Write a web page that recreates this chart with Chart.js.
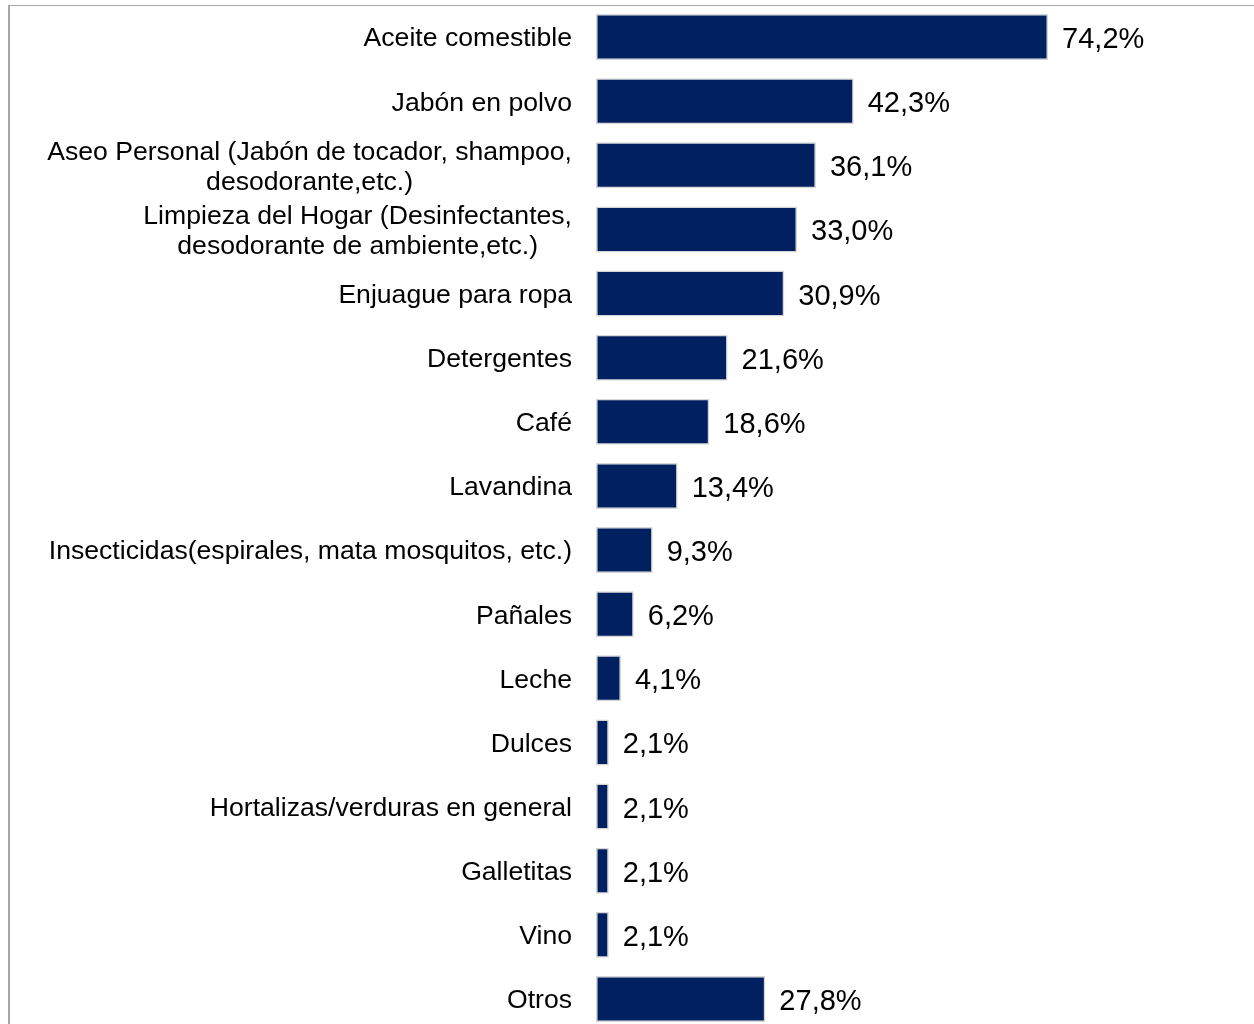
<!DOCTYPE html>
<html><head><meta charset="utf-8">
<script src="https://cdn.jsdelivr.net/npm/chart.js@4/dist/chart.umd.min.js"></script>
<style>
html,body{margin:0;padding:0;background:#fff;overflow:hidden;width:1254px;height:1024px}
#frame{position:absolute;left:8px;top:5px;width:1246px;height:1030px;border-top:1px solid #a6a6a6;border-left:2px solid #a6a6a6;}
#wrap{position:absolute;left:0;top:0;width:1254px;height:1031px}
</style></head><body>
<div id="frame"></div>
<div id="wrap"><canvas id="c" width="1254" height="1031"></canvas></div>
<script>
const categories = [
  ["Aceite comestible"],
  ["Jabón en polvo"],
  ["Aseo Personal (Jabón de tocador, shampoo,", "desodorante,etc.)"],
  ["Limpieza del Hogar (Desinfectantes,", "desodorante de ambiente,etc.)"],
  ["Enjuague para ropa"],
  ["Detergentes"],
  ["Café"],
  ["Lavandina"],
  ["Insecticidas(espirales, mata mosquitos, etc.)"],
  ["Pañales"],
  ["Leche"],
  ["Dulces"],
  ["Hortalizas/verduras en general"],
  ["Galletitas"],
  ["Vino"],
  ["Otros"]
];
const values = [74.2, 42.3, 36.1, 33.0, 30.9, 21.6, 18.6, 13.4, 9.3, 6.2, 4.1, 2.1, 2.1, 2.1, 2.1, 27.8];
const valueLabels = ["74,2%", "42,3%", "36,1%", "33,0%", "30,9%", "21,6%", "18,6%", "13,4%", "9,3%", "6,2%", "4,1%", "2,1%", "2,1%", "2,1%", "2,1%", "27,8%"];

const FONT = '"Liberation Sans", Arial, sans-serif';

const labelPlugin = {
  id: 'customLabels',
  afterDatasetsDraw(chart) {
    const ctx = chart.ctx;
    const meta = chart.getDatasetMeta(0);
    const yScale = chart.scales.y;
    ctx.save();
    ctx.fillStyle = '#000';
    ctx.textBaseline = 'middle';
    ctx.font = '26.6px ' + FONT;
    const rightX = chart.chartArea.left - 24;
    const lh = 30;
    categories.forEach((lines, i) => {
      const cy = yScale.getPixelForTick(i) + 2;
      const maxW = Math.max(...lines.map(l => ctx.measureText(l).width));
      const cx = rightX - maxW / 2;
      ctx.textAlign = 'center';
      lines.forEach((l, j) => {
        ctx.fillText(l, cx, cy + (j - (lines.length - 1) / 2) * lh);
      });
    });
    ctx.font = '29px ' + FONT;
    ctx.textAlign = 'left';
    meta.data.forEach((bar, i) => {
      ctx.fillText(valueLabels[i], bar.x + 14, bar.y + 3);
    });
    ctx.restore();
  }
};

new Chart(document.getElementById('c'), {
  type: 'bar',
  data: {
    labels: categories,
    datasets: [{
      data: values,
      backgroundColor: '#002060',
      borderColor: '#d6d6d6',
      borderWidth: 1.5,
      borderSkipped: false,
      barPercentage: 0.717,
      categoryPercentage: 1
    }]
  },
  options: {
    indexAxis: 'y',
    responsive: false,
    animation: false,
    layout: { padding: { left: 0, right: 0, top: 5, bottom: 0 } },
    plugins: { legend: { display: false }, tooltip: { enabled: false } },
    scales: {
      x: { display: false, min: 0, max: 108 },
      y: {
        grid: { display: false, drawTicks: false },
        border: { display: false },
        ticks: { display: false },
        afterFit(s) { s.width = 596; }
      }
    }
  },
  plugins: [labelPlugin]
});
</script>
</body></html>
